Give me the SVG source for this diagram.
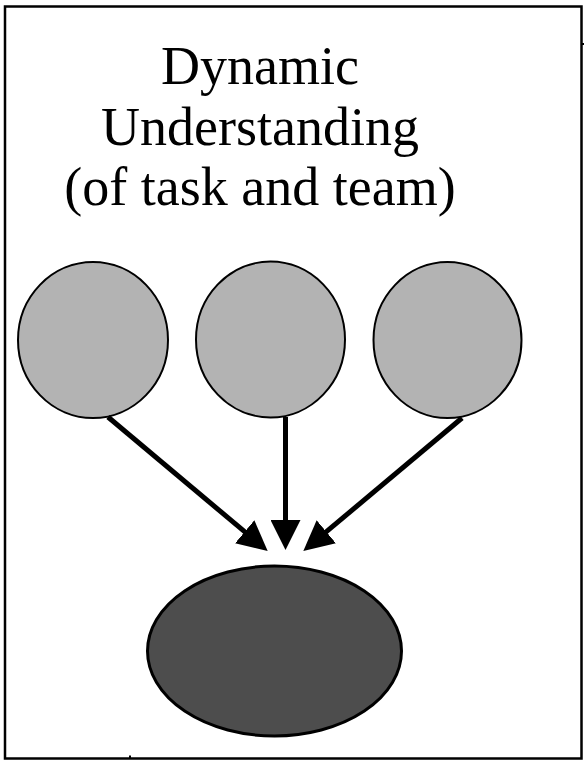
<svg xmlns="http://www.w3.org/2000/svg" width="584" height="761" viewBox="0 0 584 761">
  <style>
    .title { font-family: "Liberation Serif", "Times New Roman", serif; font-size: 54px; fill: #000; text-anchor: middle; }
    .src { fill: #b3b3b3; stroke: #000; stroke-width: 2; }
    .dst { fill: #4d4d4d; stroke: #000; stroke-width: 3; }
    .conn { stroke: #000; stroke-width: 5; fill: none; marker-end: url(#head); }
  </style>
  <defs>
    <marker id="head" viewBox="0 0 10 10" refX="1" refY="5" markerWidth="6" markerHeight="6" markerUnits="strokeWidth" orient="auto">
      <path d="M0,0 L10,5 L0,10 Z" fill="#000"/>
    </marker>
  </defs>
  <rect width="584" height="761" fill="#fff"/>
  <g id="frame">
    <rect x="5" y="6.5" width="576.5" height="752" fill="none" stroke="#000" stroke-width="2.5"/>
    <line x1="581" y1="44" x2="584" y2="44" stroke="#000" stroke-width="2"/>
    <line x1="130" y1="755.5" x2="130" y2="758" stroke="#000" stroke-width="2"/>
  </g>
  <g id="title">
    <text class="title" x="260" y="84">Dynamic</text>
    <text class="title" x="260" y="145">Understanding</text>
    <text class="title" x="260" y="205">(of task and team)</text>
  </g>
  <g id="node1"><ellipse class="src" cx="93" cy="340" rx="75" ry="78"/></g>
  <g id="node2"><ellipse class="src" cx="270.5" cy="339.5" rx="74.5" ry="78"/></g>
  <g id="node3"><ellipse class="src" cx="447.5" cy="340" rx="74" ry="78"/></g>
  <g id="node4"><ellipse class="dst" cx="274.5" cy="651" rx="127" ry="85"/></g>
  <g id="connectors">
    <line class="conn" x1="108" y1="417" x2="247" y2="533.7"/>
    <line class="conn" x1="285.5" y1="417" x2="285.5" y2="523"/>
    <line class="conn" x1="462" y1="418" x2="324" y2="533.7"/>
  </g>
</svg>
